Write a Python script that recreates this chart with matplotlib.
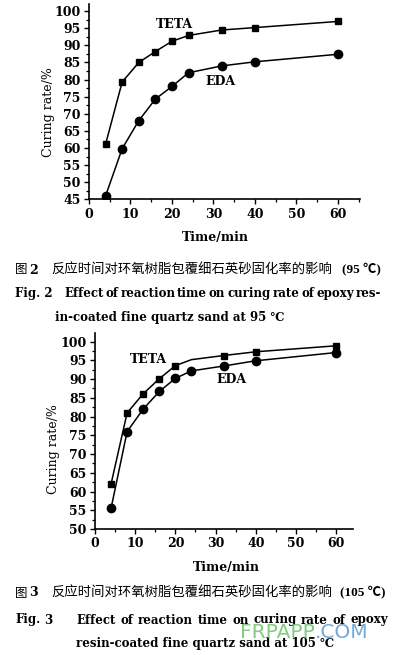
import matplotlib
matplotlib.use("Agg")
import matplotlib.pyplot as plt
from matplotlib.ticker import MultipleLocator

# data
time_95 = [4, 8, 12, 16, 20, 24, 32, 40, 60]
teta_95 = [61.1, 79.3, 85.0, 88.2, 91.2, 92.9, 94.5, 95.2, 97.0]
eda_95 = [46.0, 59.8, 68.0, 74.3, 78.0, 82.0, 84.0, 85.2, 87.4]

time_105 = [4, 8, 12, 16, 20, 24, 32, 40, 60]
teta_105 = [62.0, 81.0, 86.1, 90.1, 93.6, 95.2, 96.3, 97.3, 98.9]
teta_105_marked = [0, 1, 2, 3, 4, 6, 7, 8]  # no marker at 24 min
eda_105 = [55.5, 76.0, 82.0, 86.7, 90.2, 92.2, 93.5, 94.9, 97.1]

serif = ["DejaVu Serif", "Noto Sans CJK SC"]
times = ["Liberation Serif", "Noto Sans CJK SC"]
cjk = ["Noto Sans CJK SC", "DejaVu Sans"]

plt.rcParams['font.family'] = serif

fig = plt.figure(figsize=(3.99, 6.55), dpi=100)
renderer = fig.canvas.get_renderer()


def style_axes(ax, ymin, ymax, xmax, ylab_xy, xlab_xy):
    ax.spines['top'].set_visible(False)
    ax.spines['right'].set_visible(False)
    ax.spines['left'].set_linewidth(1.2)
    ax.spines['bottom'].set_linewidth(1.2)
    ax.set_xlim(0, xmax)
    ax.set_ylim(ymin, ymax)
    ax.xaxis.set_major_locator(MultipleLocator(10))
    ax.xaxis.set_minor_locator(MultipleLocator(5))
    ax.yaxis.set_major_locator(MultipleLocator(5))
    ax.yaxis.set_minor_locator(MultipleLocator(2.5))
    ax.tick_params(which='major', direction='out', length=3.5, width=1.0,
                   labelsize=9, pad=2.5)
    ax.tick_params(which='minor', direction='out', length=2.5, width=0.9)
    for lab in ax.get_xticklabels() + ax.get_yticklabels():
        lab.set_fontweight('bold')
    ax.set_ylabel("Curing rate/%", fontsize=9, va='center')
    ax.set_xlabel("Time/min", fontsize=9, fontweight='bold', va='center')
    ax.yaxis.set_label_coords(*ylab_xy)
    ax.xaxis.set_label_coords(*xlab_xy)


# Fig. 2 (95 C)
ax1 = fig.add_axes([0.223, 0.6957, 0.679, 0.2982])
ax1.plot(time_95, teta_95, color='black', lw=1.1, marker='s', ms=4.3)
ax1.plot(time_95, eda_95, color='black', lw=1.1, marker='o', ms=6)
style_axes(ax1, 45, 102.1, 65.3, (-0.151, 0.447), (0.465, -0.193))
ax1.set_yticks(range(45, 101, 5))
ax1.text(20.7, 96, "TETA", fontsize=9, fontweight='bold', ha='center', va='center')
ax1.text(31.6, 79.3, "EDA", fontsize=9, fontweight='bold', ha='center', va='center')

# Fig. 3 (105 C)
ax2 = fig.add_axes([0.238, 0.1924, 0.647, 0.2997])
ax2.plot(time_105, teta_105, color='black', lw=1.1, marker='s', ms=5.0,
         markevery=teta_105_marked)
ax2.plot(time_105, eda_105, color='black', lw=1.1, marker='o', ms=6)
style_axes(ax2, 50, 102.4, 64.2, (-0.159, 0.405), (0.508, -0.194))
ax2.set_yticks(range(50, 101, 5))
ax2.text(13.2, 95.3, "TETA", fontsize=9, fontweight='bold', ha='center', va='center')
ax2.text(33.9, 90.0, "EDA", fontsize=9, fontweight='bold', ha='center', va='center')


# captions (pixel positions from top-left)
def fy(py):
    return 1 - py / 655.0


def fx(px):
    return px / 399.0


def justify(line, x0, x1, y, **kw):
    # spread the words of a line between x0 and x1 (pixels)
    words = line.split()
    texts = [fig.text(0, fy(y), w, va='center', **kw) for w in words]
    widths = [t.get_window_extent(renderer).width for t in texts]
    gap = (x1 - x0 - sum(widths)) / max(len(words) - 1, 1)
    x = x0
    for t, w in zip(texts, widths):
        t.set_x(fx(x))
        x += w + gap


def cn_caption(num, temp, y, cn_size, x_end):
    fig.text(fx(15), fy(y), "图", family=cjk, fontsize=9, va='center')
    fig.text(fx(29), fy(y), num, fontsize=9, fontweight='bold', va='center')
    fig.text(fx(51), fy(y), "反应时间对环氧树脂包覆细石英砂固化率的影响", family=cjk,
             fontsize=cn_size, va='center')
    fig.text(fx(x_end), fy(y), "(" + temp + " ℃)", family=times, fontsize=9.5,
             fontweight='bold', va='center', ha='right')


cap = 8.5

cn_caption("2", "95", 270, 9.6, 381)
fig.text(fx(15), fy(293), "Fig. 2", fontsize=cap, fontweight='bold', va='center')
justify("Effect of reaction time on curing rate of epoxy res-", 64, 381, 293,
        fontsize=cap, fontweight='bold')
fig.text(fx(55), fy(318), "in-coated fine quartz sand at 95 ℃",
         fontsize=cap, fontweight='bold', va='center')

cn_caption("3", "105", 593, 9.6, 385)
fig.text(fx(15), fy(620), "Fig.", fontsize=cap, fontweight='bold', va='center')
fig.text(fx(44), fy(620), "3", fontsize=cap, fontweight='bold', va='center')
justify("Effect of reaction time on curing rate of epoxy", 76, 388, 620,
        fontsize=cap, fontweight='bold')
fig.text(fx(76), fy(643), "resin-coated fine quartz sand at 105 ℃",
         fontsize=cap, fontweight='bold', va='center')

# watermark
wm = fig.text(fx(240), fy(633), "FRPAPP", family=["DejaVu Sans"], fontsize=14.5,
              color='#6cc36c', alpha=0.85, va='center')
wm_w = wm.get_window_extent(renderer).width
fig.text(fx(240 + wm_w), fy(633), ".COM", family=["DejaVu Sans"], fontsize=14.5,
         color='#5b9bd5', alpha=0.85, va='center')

fig.savefig("out.png", dpi=100)
